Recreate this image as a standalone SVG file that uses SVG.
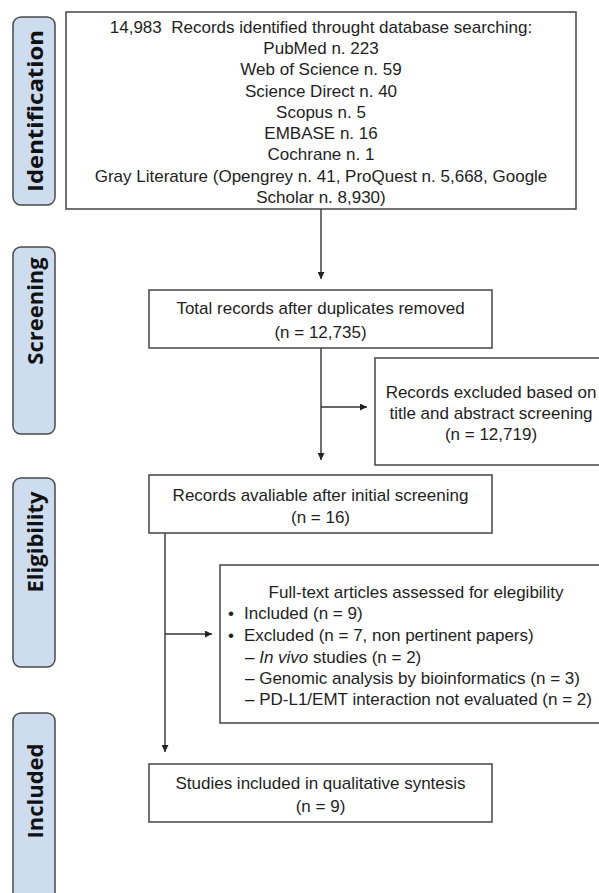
<svg xmlns="http://www.w3.org/2000/svg" width="599" height="893" viewBox="0 0 599 893">
<style>
.bg{fill:#ffffff}
.box{fill:#ffffff;stroke:#444444;stroke-width:1.5}
.lab{fill:#cddcef;stroke:#4a4a4a;stroke-width:1.5}
.t{font-family:"Liberation Sans",Arial,sans-serif;font-size:17px;fill:#1e1e1e}
.c{text-anchor:middle}
.lt{font-family:"Open Sans","DejaVu Sans",sans-serif;font-weight:700;font-size:22px;fill:#111111;text-anchor:middle}
.ln{fill:none;stroke:#333333;stroke-width:1.4}
</style>
<defs>
<marker id="ah" viewBox="0 0 10 10" refX="10" refY="5" markerWidth="7" markerHeight="7" markerUnits="userSpaceOnUse" orient="auto">
<path d="M0,0 L10,5 L0,10 z" fill="#222222"/>
</marker>
</defs>
<rect class="bg" x="0" y="0" width="599" height="893"/>

<g id="label-identification">
<rect class="lab" x="13" y="17" width="42" height="188" rx="8"/>
<text class="lt" transform="translate(42.5,111) rotate(-90)" textLength="162" lengthAdjust="spacingAndGlyphs">Identification</text>
</g>
<g id="label-screening">
<rect class="lab" x="13" y="247" width="42" height="187" rx="8"/>
<text class="lt" transform="translate(42.5,311) rotate(-90)">Screening</text>
</g>
<g id="label-eligibility">
<rect class="lab" x="13" y="478" width="42" height="189" rx="8"/>
<text class="lt" transform="translate(42.5,542) rotate(-90)">Eligibility</text>
</g>
<g id="label-included">
<rect class="lab" x="13" y="713" width="42" height="195" rx="8"/>
<text class="lt" transform="translate(42.5,791) rotate(-90)">Included</text>
</g>

<g id="connectors">
<line class="ln" x1="321" y1="209" x2="321" y2="279" marker-end="url(#ah)"/>
<line class="ln" x1="321" y1="348" x2="321" y2="460" marker-end="url(#ah)"/>
<line class="ln" x1="321" y1="407" x2="367" y2="407" marker-end="url(#ah)"/>
<line class="ln" x1="165" y1="533" x2="165" y2="752" marker-end="url(#ah)"/>
<line class="ln" x1="165" y1="634" x2="212" y2="634" marker-end="url(#ah)"/>
</g>

<g id="node-identified">
<rect class="box" x="66" y="12" width="510" height="197"/>
<text class="t c" x="321" y="32.7" xml:space="preserve">14,983  Records identified throught database searching:</text>
<text class="t c" x="321" y="54">PubMed n. 223</text>
<text class="t c" x="321" y="75.2">Web of Science n. 59</text>
<text class="t c" x="321" y="96.5">Science Direct n. 40</text>
<text class="t c" x="321" y="117.7">Scopus n. 5</text>
<text class="t c" x="321" y="139">EMBASE n. 16</text>
<text class="t c" x="321" y="160.2">Cochrane n. 1</text>
<text class="t c" x="321" y="181.5">Gray Literature (Opengrey n. 41, ProQuest n. 5,668, Google</text>
<text class="t c" x="321" y="202.7">Scholar n. 8,930)</text>
</g>

<g id="node-duplicates">
<rect class="box" x="149" y="290" width="343" height="58"/>
<text class="t c" x="320.5" y="314">Total records after duplicates removed</text>
<text class="t c" x="320.5" y="338">(n = 12,735)</text>
</g>

<g id="node-excluded">
<rect class="box" x="375" y="358" width="232" height="107"/>
<text class="t c" x="491" y="398">Records excluded based on</text>
<text class="t c" x="491" y="419">title and abstract screening</text>
<text class="t c" x="491" y="440">(n = 12,719)</text>
</g>

<g id="node-available">
<rect class="box" x="149" y="475" width="343" height="58"/>
<text class="t c" x="320.5" y="501">Records avaliable after initial screening</text>
<text class="t c" x="320.5" y="523">(n = 16)</text>
</g>

<g id="node-fulltext">
<rect class="box" x="220" y="565" width="380" height="158"/>
<text class="t c" x="416" y="598">Full-text articles assessed for elegibility</text>
<text class="t" x="228" y="619">•</text>
<text class="t" x="244" y="619">Included (n = 9)</text>
<text class="t" x="228" y="641">•</text>
<text class="t" x="244" y="641">Excluded (n = 7, non pertinent papers)</text>
<text class="t" x="245" y="663">– <tspan font-style="italic">In vivo</tspan> studies (n = 2)</text>
<text class="t" x="245" y="684">– Genomic analysis by bioinformatics (n = 3)</text>
<text class="t" x="245" y="705">– PD-L1/EMT interaction not evaluated (n = 2)</text>
</g>

<g id="node-studies">
<rect class="box" x="149" y="764" width="343" height="58"/>
<text class="t c" x="320.5" y="789">Studies included in qualitative syntesis</text>
<text class="t c" x="320.5" y="812">(n = 9)</text>
</g>
</svg>
